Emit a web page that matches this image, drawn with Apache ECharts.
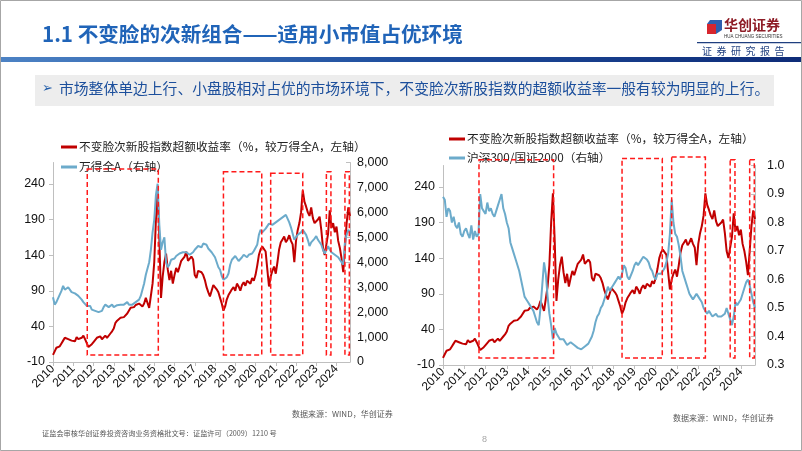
<!DOCTYPE html>
<html><head><meta charset="utf-8">
<script src="https://cdn.jsdelivr.net/npm/echarts@6/dist/echarts.min.js"></script>
<style>html,body{margin:0;padding:0;background:#fff}#c{width:802px;height:451px}</style>
</head><body><div id="c"></div>
<script>
// ---- tick labels (x axis: one label per 12 monthly samples) ----
const yearLabels = ['2010','2011','2012','2013','2014','2015','2016','2017','2018','2019','2020','2021','2022','2023','2024'];
const leftAxisTicks = [-10, 40, 90, 140, 190, 240];

// ---- series values (monthly samples) ----
const excessReturn = [0,5,10,8,12,16,20,24,26,22,24,20,22,19,25,22,20,24,27,22,24,11,12,15,18,20,24,23,26,22,24,27,24,26,30,33,37,45,48,50,52,50,53,55,58,60,66,64,67,70,70,72,71,68,72,80,78,66,83,100,130,190,231,165,80,110,130,142,120,105,118,100,112,122,116,124,132,130,138,145,132,130,138,134,112,108,118,120,
116,112,105,95,88,82,90,98,100,92,88,80,72,62,68,78,84,88,92,95,90,100,96,90,98,102,97,104,106,100,108,104,112,125,140,148,152,150,145,120,96,110,118,124,114,130,148,158,162,166,158,162,168,160,155,130,160,175,185,200,231,215,208,200,195,207,192,185,184,190,194,175,150,140,138,170,203,178,185,172,180,160,150,135,116,150,185,207,195];

const windA = [2600,2300,2400,2550,2700,2850,3050,2900,2850,3000,2950,2800,2850,2750,2800,2650,2600,2500,2400,2350,2250,2300,2250,2100,2150,2050,2020,2000,1960,2050,2200,2300,2350,2200,2250,2300,2200,2250,2280,2200,2300,2350,2300,2250,2400,2300,2250,2300,2350,2400,2380,2500,2650,2900,3150,3500,3750,4000,4500,5200,5700,6700,7150,5500,4500,4800,5000,4000,3800,3900,4100,4050,4150,4250,4300,4350,4300,4400,4450,4400,4350,4300,4250,4400,4500,4550,4650,4700,
4600,4750,4800,4700,4550,4600,4400,4300,4200,4000,3800,3700,3450,3300,3250,3400,3550,3900,4100,4150,4250,4150,4050,4100,4200,4300,4300,4200,4300,4250,4350,4450,4400,4700,5100,5300,5200,5250,5350,5300,5550,5600,5500,5450,5600,5650,5700,5750,5800,5850,5900,5980,5600,5400,5150,4900,5000,5100,5050,5200,5300,5250,5100,4900,4650,4800,4850,4950,5050,4900,4950,4700,4500,4350,4300,4650,4500,4400,4450,4300,4350,4200,4100,4000,3900,4800,5100,5300,5200];

const hs300ToGz2000 = [0.89,0.88,0.82,0.85,0.84,0.80,0.82,0.79,0.78,0.80,0.76,0.75,0.77,0.78,0.76,0.745,0.79,0.74,0.77,0.75,0.76,0.90,0.85,0.84,0.83,0.87,0.84,0.85,0.83,0.82,0.84,0.86,0.88,0.90,0.85,0.83,0.80,0.78,0.73,0.71,0.69,0.67,0.65,0.63,0.60,0.57,0.54,0.53,0.52,0.51,0.50,0.49,0.47,0.45,0.44,0.50,0.58,0.66,0.62,0.54,0.48,0.44,0.39,0.43,0.41,0.40,0.39,0.385,0.39,0.38,0.37,0.375,0.38,0.385,0.37,0.365,0.36,0.358,0.355,0.36,0.365,0.37,0.375,0.38,0.40,0.42,0.45,0.47,
0.48,0.50,0.51,0.53,0.55,0.575,0.56,0.57,0.58,0.59,0.60,0.61,0.60,0.62,0.65,0.64,0.61,0.60,0.60,0.63,0.65,0.66,0.65,0.66,0.67,0.68,0.68,0.67,0.66,0.64,0.63,0.61,0.60,0.62,0.62,0.62,0.63,0.64,0.66,0.69,0.76,0.88,0.80,0.76,0.75,0.72,0.68,0.63,0.61,0.59,0.57,0.55,0.54,0.53,0.54,0.55,0.54,0.53,0.52,0.50,0.49,0.48,0.49,0.48,0.47,0.47,0.48,0.47,0.475,0.47,0.465,0.48,0.50,0.48,0.46,0.44,0.47,0.52,0.51,0.52,0.53,0.55,0.57,0.59,0.60,0.58,0.55,0.52,0.50];

// ---- highlighted periods (dashed boxes), in monthly-sample units ----
const boxStart = [20.3, 101, 129, 162, 173];
const boxEnd = [62.4, 123.7, 148, 164.7, 175.6];
const boxTopLeftChart = [261, 257, 255, 257, 257];
const boxTopRightChart = [278, 280, 282, 278, 278];

const sampleIndex = excessReturn.map((v, i) => i);
const pairs = arr => arr.map((v, i) => [sampleIndex[i], v]);

const RED_NAME = '不变脸次新股指数超额收益率（%，较万得全A，左轴）';
const WIND_NAME = '万得全A（右轴）';
const RATIO_NAME = '沪深300/国证2000（右轴）';
const RED = '#C00000', BLUE = '#6CABCB', BOX = '#FF1A1A';
const NUMFONT = '"Liberation Sans", Arial, sans-serif';
const CJK = '"Noto Sans CJK SC", sans-serif';

const chart = echarts.init(document.getElementById('c'), null, {renderer: 'canvas'});

function xAxisCfg(gi) {
  return {
    type: 'value', gridIndex: gi, min: 0, max: 176, interval: 12,
    axisLine: {show: true, onZero: false, lineStyle: {color: '#BFBFBF', width: 1}},
    axisTick: {show: true, length: 4, lineStyle: {color: '#BFBFBF'}},
    splitLine: {show: false},
    axisLabel: {rotate: 45, margin: 5, fontSize: 12, color: '#111', fontFamily: NUMFONT,
      showMaxLabel: false, hideOverlap: false,
      formatter: v => (v % 12 === 0 ? yearLabels[v / 12] : '')}
  };
}
function leftYCfg(gi) {
  return {
    type: 'value', gridIndex: gi, position: 'left', min: -10, max: 270, interval: 50,
    axisLine: {show: true, lineStyle: {color: '#BFBFBF'}},
    axisTick: {show: true, length: 4, lineStyle: {color: '#BFBFBF'}},
    splitLine: {show: false},
    axisLabel: {fontSize: 12.5, color: '#111', fontFamily: NUMFONT, margin: 8, showMaxLabel: false,
      formatter: v => (leftAxisTicks.indexOf(v) >= 0 ? String(v) : '')}
  };
}
function boxSeries(xi, yi, tops) {
  return {
    type: 'custom', xAxisIndex: xi, yAxisIndex: yi, clip: false, silent: true, z: 5,
    encode: {x: [0, 1], y: 2},
    data: boxStart.map((s, i) => [s, boxEnd[i], tops[i]]),
    renderItem: (params, api) => {
      const p0 = api.coord([api.value(0), api.value(2)]);
      const p1 = api.coord([api.value(1), 0]);
      return {type: 'rect', shape: {x: p0[0], y: p0[1], width: p1[0] - p0[0], height: p1[1] - p0[1]},
        style: {fill: null, stroke: BOX, lineWidth: 1.5, lineDash: [5, 3]}};
    }
  };
}

const option = {
  animation: false,
  backgroundColor: '#fff',
  grid: [
    {left: 53, top: 162.5, width: 297, height: 199.5, outerBoundsMode: 'none', containLabel: false},
    {left: 443, top: 165.5, width: 312, height: 199.5, outerBoundsMode: 'none', containLabel: false}
  ],
  xAxis: [xAxisCfg(0), xAxisCfg(1)],
  yAxis: [
    leftYCfg(0),
    {type: 'value', gridIndex: 0, position: 'right', min: 0, max: 8000, interval: 1000,
      axisLine: {show: true, lineStyle: {color: '#BFBFBF'}},
      axisTick: {show: true, inside: true, length: 4, lineStyle: {color: '#BFBFBF'}},
      splitLine: {show: false},
      axisLabel: {fontSize: 12.5, color: '#111', fontFamily: NUMFONT, margin: 7,
        formatter: v => v.toLocaleString('en-US')}},
    leftYCfg(1),
    {type: 'value', gridIndex: 1, position: 'right', min: 0.3, max: 1.0, interval: 0.1,
      axisLine: {show: true, lineStyle: {color: '#BFBFBF'}},
      axisTick: {show: true, inside: true, length: 4, lineStyle: {color: '#BFBFBF'}},
      splitLine: {show: false},
      axisLabel: {fontSize: 12.5, color: '#111', fontFamily: NUMFONT, margin: 12,
        formatter: v => v.toFixed(1)}}
  ],
  legend: [
    {orient: 'vertical', left: 56, top: 135, itemWidth: 16, itemHeight: 3, itemGap: 6, icon: 'rect',
      data: [RED_NAME, WIND_NAME], selectedMode: false,
      textStyle: {fontSize: 11.7, color: '#222', fontFamily: CJK, lineHeight: 14, padding: [0, 0, 0, -3]}},
    {orient: 'vertical', left: 444, top: 127, itemWidth: 16, itemHeight: 3, itemGap: 5, icon: 'rect',
      data: [RED_NAME, RATIO_NAME], selectedMode: false,
      textStyle: {fontSize: 11.7, color: '#222', fontFamily: CJK, lineHeight: 14, padding: [0, 0, 0, -3]}}
  ],
  series: [
    {name: RED_NAME, type: 'line', xAxisIndex: 0, yAxisIndex: 0, data: pairs(excessReturn), showSymbol: false,
      lineStyle: {color: RED, width: 2}, itemStyle: {color: RED}, z: 2},
    {name: WIND_NAME, type: 'line', xAxisIndex: 0, yAxisIndex: 1, data: pairs(windA), showSymbol: false,
      lineStyle: {color: BLUE, width: 2}, itemStyle: {color: BLUE}, z: 3},
    boxSeries(0, 0, boxTopLeftChart),
    {name: RED_NAME, type: 'line', xAxisIndex: 1, yAxisIndex: 2, data: pairs(excessReturn), showSymbol: false,
      lineStyle: {color: RED, width: 2}, itemStyle: {color: RED}, z: 2},
    {name: RATIO_NAME, type: 'line', xAxisIndex: 1, yAxisIndex: 3, data: pairs(hs300ToGz2000), showSymbol: false,
      lineStyle: {color: BLUE, width: 2}, itemStyle: {color: BLUE}, z: 3},
    boxSeries(1, 2, boxTopRightChart)
  ],
  graphic: [
    {type: 'rect', shape: {x: 0.5, y: 0.5, width: 801, height: 450}, style: {fill: null, stroke: '#A6A6A6', lineWidth: 1}, silent: true},
    {type: 'text', left: 42, top: 24, style: {text: '1.1 不变脸的次新组合——适用小市值占优环境', font: 'bold 20.6px "Noto Sans CJK SC"', fill: '#2064B8'}},
    {type: 'rect', shape: {x: 1, y: 57, width: 800, height: 5},
      style: {fill: new echarts.graphic.LinearGradient(0, 0, 1, 0, [{offset: 0, color: '#4C82C4'}, {offset: 0.5, color: '#1F4E9E'}, {offset: 1, color: '#0E2C78'}])}},
    // logo
    {type: 'polygon', shape: {points: [[707, 24], [716, 24], [716, 34], [707, 34]]}, style: {fill: '#D7262E'}},
    {type: 'polygon', shape: {points: [[710, 20], [722, 20], [722, 30], [716, 34], [716, 24], [707, 24]]}, style: {fill: '#2F5FAE'}},
    {type: 'text', left: 724, top: 18, style: {text: '华创证券', font: 'bold 14px "Noto Sans CJK SC"', fill: '#8E1C26'}},
    {type: 'text', left: 724, top: 34, style: {text: 'HUA CHUANG SECURITIES', font: '4.5px "Liberation Sans"', fill: '#333'}},
    {type: 'rect', shape: {x: 697, y: 42, width: 104, height: 1.3}, style: {fill: '#1F3F7F'}},
    {type: 'text', left: 702, top: 46, style: {text: '证  券  研  究  报  告', font: '10px "Noto Sans CJK SC"', fill: '#1F3F7F'}},
    // banner
    {type: 'rect', shape: {x: 35, y: 75, width: 739, height: 31}, style: {fill: '#EDEDED'}},
    {type: 'text', left: 42, top: 82, style: {text: '➢', font: '13px "DejaVu Sans"', fill: '#1F5BA8'}},
    {type: 'text', left: 59, top: 81, style: {text: '市场整体单边上行、小盘股相对占优的市场环境下，不变脸次新股指数的超额收益率一般有较为明显的上行。', font: '14.8px "Noto Sans CJK SC"', fill: '#1C4F9C'}},
    // sources & footer
    {type: 'text', left: 292, top: 410, style: {text: '数据来源：WIND，华创证券', font: '8px "Noto Sans CJK SC"', fill: '#595959'}},
    {type: 'text', left: 673, top: 414, style: {text: '数据来源：WIND，华创证券', font: '8px "Noto Sans CJK SC"', fill: '#595959'}},
    {type: 'text', left: 42, top: 430, style: {text: '证监会审核华创证券投资咨询业务资格批文号：证监许可（2009）1210 号', font: '7.2px "Noto Sans CJK SC"', fill: '#595959'}},
    {type: 'text', left: 482, top: 435, style: {text: '8', font: '9px "Liberation Sans"', fill: '#A6A6A6'}}
  ]
};
chart.setOption(option);
</script>
</body></html>
